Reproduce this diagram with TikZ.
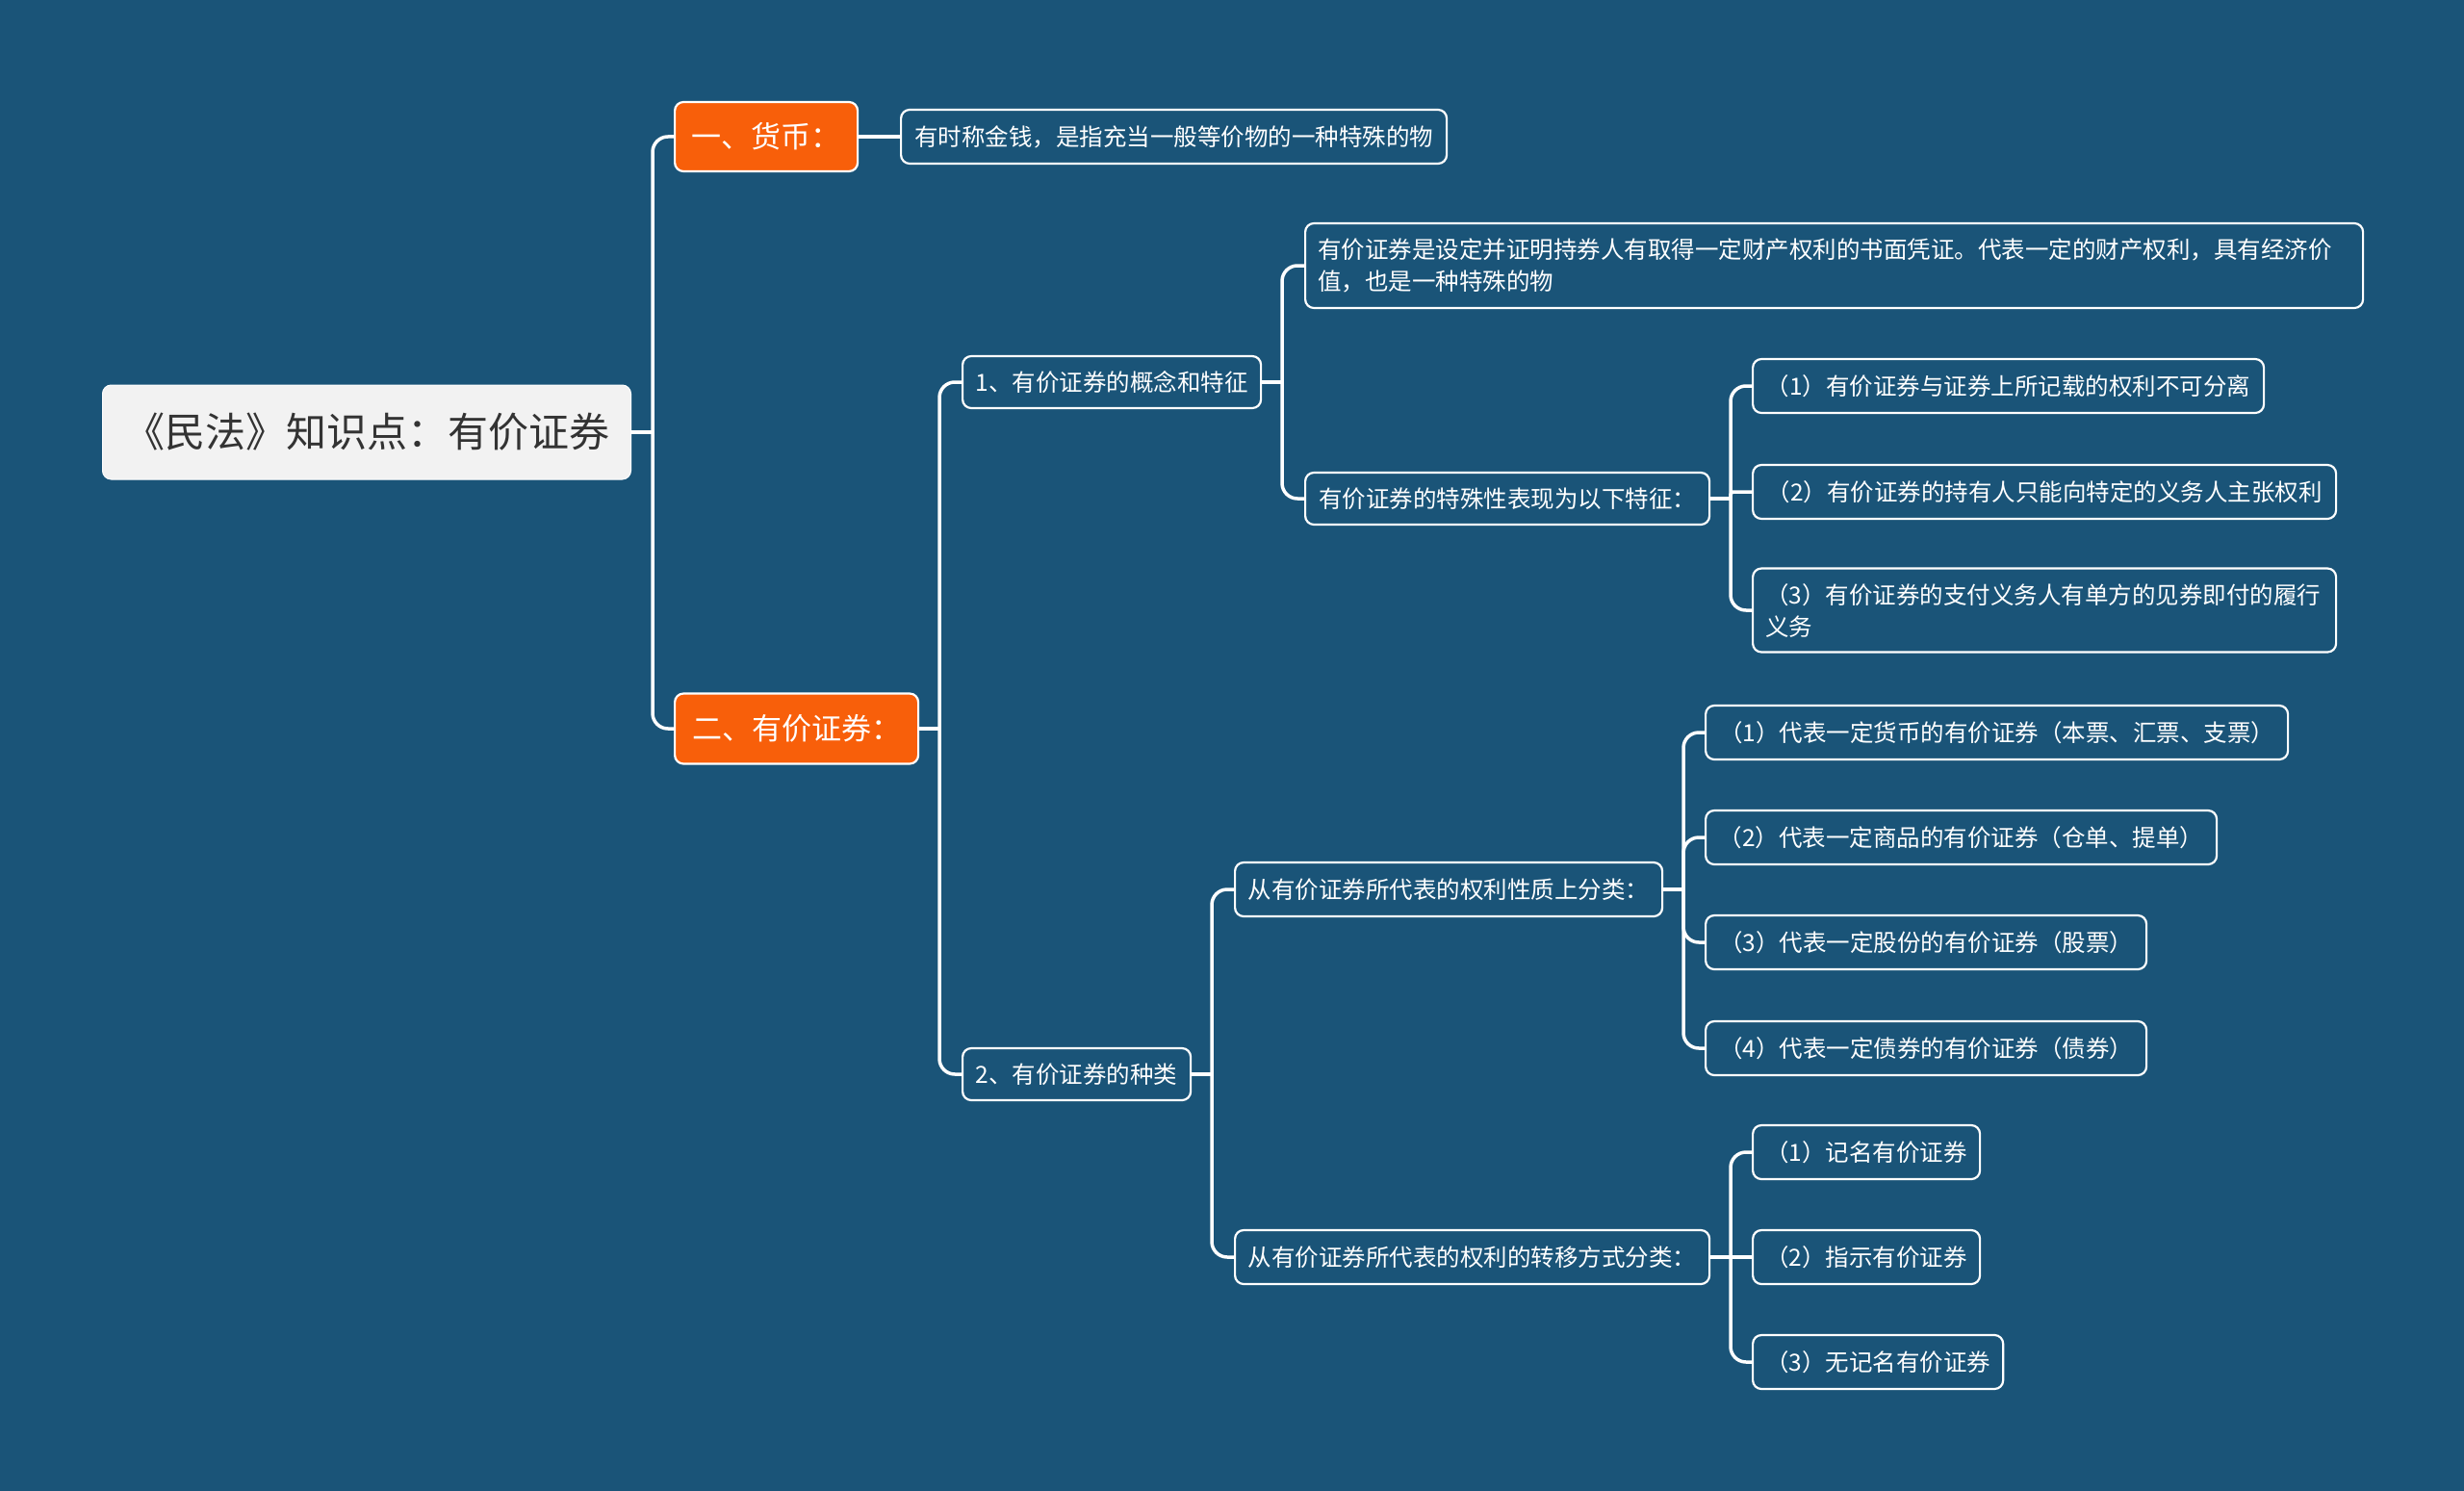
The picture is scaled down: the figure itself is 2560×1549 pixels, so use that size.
\documentclass[tikz,border=0pt]{standalone}
\usepackage{fontspec}
\setmainfont{Noto Sans CJK SC}
\definecolor{bg}{HTML}{1A5478}
\definecolor{org}{HTML}{F85F0A}
\definecolor{rootfill}{HTML}{F2F2F2}
\definecolor{roottext}{HTML}{333333}
\pgfdeclarelayer{background}
\pgfsetlayers{background,main}
\begin{document}
\begin{tikzpicture}[x=1pt,y=-1pt,
 leaf/.style={draw=white, line width=2.2pt, rounded corners=9pt, fill=bg, text=white,
   font=\fontsize{24.5}{33}\selectfont, inner xsep=13pt, inner ysep=0pt,
   minimum height=56pt, anchor=west, align=left},
 orangebox/.style={leaf, fill=org, font=\fontsize{31}{36}\selectfont, minimum height=72pt},
 rootbox/.style={leaf, line width=1pt, fill=rootfill, text=roottext,
   font=\fontsize{42}{48}\selectfont, minimum height=98pt},
 lnk/.style={draw=white, line width=3.5pt, rounded corners=16pt},
 stub/.style={draw=white, line width=3.5pt, line cap=rect}]

\begin{pgfonlayer}{background}
\fill[bg] (0,0) rectangle (2560,1549);
\end{pgfonlayer}

% nodes
\node[rootbox, minimum width=549pt] (root) at (106,449) {《民法》知识点：有价证券};
\node[orangebox, minimum width=190pt] (a) at (700,142) {一、货币：};
\node[leaf, minimum width=567pt] (a1) at (935,142) {有时称金钱，是指充当一般等价物的一种特殊的物};
\node[orangebox, minimum width=253pt, minimum height=73pt] (b) at (700,757) {二、有价证券：};

\node[leaf, minimum width=310pt, minimum height=54pt] (b1) at (999,397) {1、有价证券的概念和特征};
\node[leaf, text width=1073pt, minimum height=88pt] (b11) at (1355,276) {有价证券是设定并证明持券人有取得一定财产权利的书面凭证。代表一定的财产权利，具有经济价\\值，也是一种特殊的物};
\node[leaf, minimum width=420pt, minimum height=54pt] (b12) at (1355,518) {有价证券的特殊性表现为以下特征：};
\node[leaf, minimum width=531pt] (s1) at (1820,401) {（1）有价证券与证券上所记载的权利不可分离};
\node[leaf, minimum width=606pt] (s2) at (1820,511) {（2）有价证券的持有人只能向特定的义务人主张权利};
\node[leaf, text width=580pt, minimum height=87pt] (s3) at (1820,634) {（3）有价证券的支付义务人有单方的见券即付的履行\\义务};

\node[leaf, minimum width=237pt, minimum height=54pt] (b2) at (999,1116) {2、有价证券的种类};
\node[leaf, minimum width=444pt] (c1) at (1282,924) {从有价证券所代表的权利性质上分类：};
\node[leaf, minimum width=605pt] (k1) at (1771,761) {（1）代表一定货币的有价证券（本票、汇票、支票）};
\node[leaf, minimum width=531pt] (k2) at (1771,870) {（2）代表一定商品的有价证券（仓单、提单）};
\node[leaf, minimum width=458pt] (k3) at (1771,979) {（3）代表一定股份的有价证券（股票）};
\node[leaf, minimum width=458pt] (k4) at (1771,1089) {（4）代表一定债券的有价证券（债券）};
\node[leaf, minimum width=493pt] (c2) at (1282,1306) {从有价证券所代表的权利的转移方式分类：};
\node[leaf, minimum width=236pt] (t1) at (1820,1197) {（1）记名有价证券};
\node[leaf, minimum width=236pt] (t2) at (1820,1306) {（2）指示有价证券};
\node[leaf, minimum width=260pt] (t3) at (1820,1415) {（3）无记名有价证券};

% bus points
\coordinate (busroot) at (678,449);
\coordinate (busb) at (976,757);
\coordinate (busb1) at (1332,397);
\coordinate (busb12) at (1798,518);
\coordinate (busb2) at (1259,1116);
\coordinate (busc1) at (1749,924);
\coordinate (busc2) at (1798,1306);

\begin{pgfonlayer}{background}
\draw[stub] (root.east) -- (busroot);
\draw[lnk] (busroot) |- (a.west);
\draw[lnk] (busroot) |- (b.west);
\draw[stub] (a.east) -- (a1.west);

\draw[stub] (b.east) -- (busb);
\draw[lnk] (busb) |- (b1.west);
\draw[lnk] (busb) |- (b2.west);

\draw[stub] (b1.east) -- (busb1);
\draw[lnk] (busb1) |- (b11.west);
\draw[lnk] (busb1) |- (b12.west);

\draw[stub] (b12.east) -- (busb12);
\draw[lnk] (busb12) |- (s1.west);
\draw[lnk, rounded corners=3pt] (busb12) |- (s2.west);
\draw[lnk] (busb12) |- (s3.west);

\draw[stub] (b2.east) -- (busb2);
\draw[lnk] (busb2) |- (c1.west);
\draw[lnk] (busb2) |- (c2.west);

\draw[stub] (c1.east) -- (busc1);
\draw[lnk] (busc1) |- (k1.west);
\draw[lnk] (busc1) |- (k2.west);
\draw[lnk] (busc1) |- (k3.west);
\draw[lnk] (busc1) |- (k4.west);

\draw[stub] (c2.east) -- (busc2);
\draw[lnk] (busc2) |- (t1.west);
\draw[stub] (busc2) -- (t2.west);
\draw[lnk] (busc2) |- (t3.west);
\end{pgfonlayer}
\end{tikzpicture}
\end{document}
